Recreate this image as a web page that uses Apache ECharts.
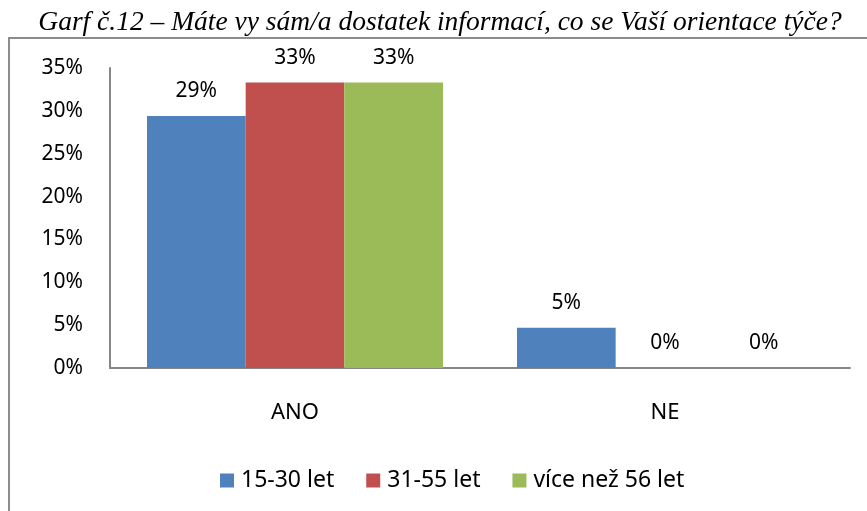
<!DOCTYPE html>
<html>
<head>
<meta charset="utf-8">
<title>Garf č.12</title>
<script src="https://cdn.jsdelivr.net/npm/echarts@6/dist/echarts.min.js"></script>
<style>
  html, body { margin: 0; padding: 0; background: #fff; }
  #main { width: 867px; height: 511px; }
</style>
</head>
<body>
<div id="main"></div>
<script>
  // data (percent)
  var categories = ['ANO', 'NE'];
  var seriesNames = ['15-30 let', '31-55 let', 'více než 56 let'];
  var young = [29.4, 4.7];
  var middle = [33.3, 0];
  var old = [33.3, 0];
  var colors = ['#4F81BD', '#C0504D', '#9BBB59'];

  var font = 'Noto Sans';
  var labelOpt = {
    show: true,
    position: 'top',
    distance: 14,
    color: '#000',
    fontFamily: font,
    fontSize: 21,
    formatter: function (p) { return Math.round(p.value) + '%'; }
  };

  var myChart = echarts.init(document.getElementById('main'));
  var option = {
    animation: false,
    color: colors,
    title: {
      text: 'Garf č.12 – Máte vy sám/a dostatek informací, co se Vaší orientace týče?',
      left: 435,
      textAlign: 'center',
      top: 4,
      textStyle: {
        fontFamily: 'Liberation Serif',
        fontStyle: 'italic',
        fontWeight: 'normal',
        fontSize: 27.5,
        color: '#000'
      }
    },
    graphic: [{
      type: 'polyline',
      shape: { points: [[9, 511], [9, 38], [867, 38]] },
      style: { stroke: '#8c8c8c', lineWidth: 2, fill: null }
    }],
    legend: {
      data: seriesNames,
      left: 215,
      top: 464,
      itemWidth: 14,
      itemHeight: 14,
      itemGap: 32,
      icon: 'rect',
      textStyle: { fontFamily: font, fontSize: 23, color: '#000', padding: [0, 0, 0, 2] }
    },
    grid: { left: 110, right: 17, top: 68, bottom: 143 },
    xAxis: {
      type: 'category',
      data: categories,
      axisLine: { lineStyle: { color: '#868686', width: 2 } },
      axisTick: { show: false },
      axisLabel: { margin: 34, color: '#000', fontFamily: font, fontSize: 22 }
    },
    yAxis: {
      type: 'value',
      min: 0,
      max: 35,
      interval: 5,
      axisLine: { show: true, lineStyle: { color: '#868686', width: 2 } },
      axisTick: { show: false },
      splitLine: { show: false },
      axisLabel: { formatter: '{value}%', margin: 27, color: '#000', fontFamily: font, fontSize: 21 }
    },
    series: [
      { name: seriesNames[0], type: 'bar', barGap: 0, barCategoryGap: '20%', data: young, label: labelOpt },
      { name: seriesNames[1], type: 'bar', data: middle, label: labelOpt },
      { name: seriesNames[2], type: 'bar', data: old, label: labelOpt }
    ]
  };
  myChart.setOption(option);
</script>
</body>
</html>
